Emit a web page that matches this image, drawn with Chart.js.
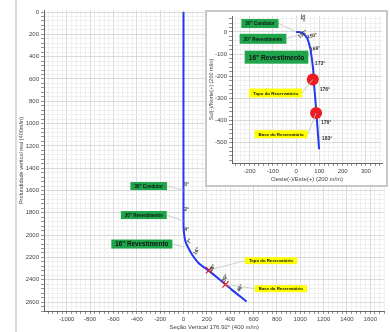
<!DOCTYPE html>
<html>
<head>
<meta charset="utf-8">
<script src="https://cdn.jsdelivr.net/npm/chart.js@4"></script>
<style>
  body { margin: 0; background: #fff; }
  #quadro { position: relative; width: 390px; height: 332px; overflow: hidden; }
  #borda { position: absolute; left: 15px; top: 0; width: 2px; height: 332px; background: #d9d9d9; }
  #main { position: absolute; left: 0; top: 0; }
  #inset { position: absolute; left: 205px; top: 10px; background: #fff; }
</style>
</head>
<body>
<div id="quadro">
  <div id="borda"></div>
  <canvas id="main" width="390" height="332"></canvas>
  <canvas id="inset" width="183" height="177"></canvas>
</div>
<script>
// Seção vertical (m) x profundidade vertical real (m)
const secaoVertical = [0, 0, 4, 15, 34, 77, 133, 215, 317, 417, 540];
const profundidade  = [0, 1900, 1980, 2050, 2100, 2180, 2254, 2318, 2404, 2493, 2595];

// Topo / base do reservatório na seção vertical
const reservSecao = [219, 360];
const reservProf  = [2314, 2442];

// Vista em planta: Oeste(-)/Este(+) x Sul(-)/Norte(+)
const esteOeste  = [0, 24, 46, 60, 67, 74, 76, 82, 87, 96, 99];
const norteSul   = [0, -3, -25, -70, -115, -175, -220, -295, -362, -489, -530];
const reservEste  = [72, 86];
const reservNorte = [-215, -366];

// rótulos das sapatas e do reservatório
const VERDE = '#1ea54b', AMARELO = '#ffff00';
const caixasMain = [
  { text: '30" Condutor', x: -298, y: 1560, size: 4.5, h: 8, cor: VERDE, ax: 0, ay: 1597 },
  { text: '20" Revestimento', x: -340, y: 1820, size: 4.5, h: 8, cor: VERDE, ax: 0, ay: 1875 },
  { text: '16" Revestimento', x: -357, y: 2080, size: 6.3, h: 9, cor: VERDE, ax: 8, ay: 2107 },
  { text: 'Topo do Reservatório', x: 749, y: 2229, size: 4.3, h: 7, cor: AMARELO, ax: 219, ay: 2314 },
  { text: 'Base do Reservatório', x: 834, y: 2480, size: 4.3, h: 7, cor: AMARELO, ax: 360, ay: 2442 }
];
const angulosMain = [
  { text: '0°', x: 26, y: 1543, rot: 0 },
  { text: '2°', x: 26, y: 1767, rot: 0 },
  { text: '4°', x: 26, y: 1955, rot: 0 },
  { text: '7°', x: 51, y: 2054, rot: -60 },
  { text: '16°', x: 111, y: 2143, rot: -60 },
  { text: '28°', x: 247, y: 2296, rot: -60 },
  { text: '39°', x: 357, y: 2386, rot: -60 },
  { text: '46°', x: 485, y: 2475, rot: -60 }
];
const caixasInset = [
  { text: '30" Condutor', x: -155, y: 38, size: 4.6, h: 9, cor: VERDE, ax: 0, ay: 0 },
  { text: '20" Revestimento', x: -142, y: -31, size: 4.6, h: 10, cor: VERDE, ax: 24, ay: -9 },
  { text: '16" Revestimento', x: -84, y: -114, size: 6.6, h: 13, cor: VERDE, ax: 60, ay: -76 },
  { text: 'Topo do Reservatório', x: -88, y: -276, size: 4.4, h: 9, cor: AMARELO, ax: 72, ay: -215 },
  { text: 'Base do Reservatório', x: -64, y: -462, size: 4.4, h: 8, cor: AMARELO, ax: 86, ay: -366 }
];
const angulosInset = [
  { text: '32°', x: 26, y: 63, rot: 90 },
  { text: '122°', x: 28, y: -10, rot: -40 },
  { text: '150°', x: 69, y: -18, rot: -15 },
  { text: '168°', x: 82, y: -76, rot: -10 },
  { text: '173°', x: 103, y: -143, rot: 0 },
  { text: '176°', x: 124, y: -260, rot: 0 },
  { text: '178°', x: 129, y: -408, rot: 0 },
  { text: '183°', x: 133, y: -480, rot: 0 }
];

const FONTE = '"Liberation Sans", Arial, sans-serif';

function marcas(ini, fim, passo) {
  const t = [];
  for (let v = ini; v <= fim; v += passo) t.push({ value: v });
  return t;
}

function eixo(min, max, passo, maior, extra) {
  return Object.assign({
    type: 'linear', min: min, max: max,
    afterBuildTicks: a => { a.ticks = marcas(Math.ceil(min / passo) * passo, max, passo); },
    ticks: {
      autoSkip: false, maxRotation: 0, padding: 2,
      color: '#444', font: { family: FONTE, size: 6 },
      callback: v => (v % maior === 0 ? v : '')
    },
    grid: {
      color: c => (c.tick && c.tick.value % maior === 0 ? '#d2d2d2' : '#ececec'),
      tickColor: '#777', tickLength: 3, lineWidth: 0.8
    },
    border: { color: '#666', width: 1 }
  }, extra);
}

const rotulos = {
  id: 'rotulos',
  afterDatasetsDraw(chart, args, opts) {
    const { ctx } = chart;
    const sx = chart.scales.x, sy = chart.scales.y;
    ctx.save();
    opts.caixas.forEach(c => {
      const px = sx.getPixelForValue(c.x), py = sy.getPixelForValue(c.y);
      ctx.font = 'bold ' + c.size + 'px ' + FONTE;
      const w = ctx.measureText(c.text).width + 8;
      const ax = sx.getPixelForValue(c.ax), ay = sy.getPixelForValue(c.ay);
      ctx.strokeStyle = '#c4c4c4';
      ctx.lineWidth = 0.8;
      ctx.beginPath();
      ctx.moveTo(ax > px ? px + w / 2 : px - w / 2, py);
      ctx.lineTo(ax, ay);
      ctx.stroke();
      ctx.fillStyle = c.cor;
      ctx.fillRect(px - w / 2, py - c.h / 2, w, c.h);
      ctx.fillStyle = '#111';
      ctx.textAlign = 'center';
      ctx.textBaseline = 'middle';
      ctx.fillText(c.text, px, py + 0.5);
    });
    opts.angulos.forEach(a => {
      ctx.save();
      ctx.translate(sx.getPixelForValue(a.x), sy.getPixelForValue(a.y));
      ctx.rotate(a.rot * Math.PI / 180);
      ctx.font = 'bold 5px ' + FONTE;
      ctx.fillStyle = '#333';
      ctx.textAlign = 'center';
      ctx.textBaseline = 'middle';
      ctx.fillText(a.text, 0, 0);
      ctx.restore();
    });
    ctx.restore();
  }
};

const moldura = {
  id: 'moldura',
  afterDraw(chart) {
    const ctx = chart.ctx;
    ctx.save();
    ctx.strokeStyle = '#c8c8c8';
    ctx.lineWidth = 2;
    ctx.strokeRect(1, 1, chart.width - 2, chart.height - 2);
    ctx.restore();
  }
};

const pontos = (xs, ys) => xs.map((v, i) => ({ x: v, y: ys[i] }));

// Seção vertical
new Chart(document.getElementById('main'), {
  type: 'scatter',
  data: {
    datasets: [
      {
        data: pontos(secaoVertical, profundidade),
        showLine: true, borderColor: '#2438f0', borderWidth: 2,
        pointRadius: 0, tension: 0.25, order: 1
      },
      {
        data: pontos(reservSecao, reservProf),
        pointStyle: 'crossRot', pointRadius: 4.5,
        borderColor: '#ee1c1c', borderWidth: 1.2, order: 0
      }
    ]
  },
  options: {
    responsive: false, animation: false,
    layout: { padding: { left: 17, right: 2, top: 10, bottom: 0 } },
    plugins: {
      legend: { display: false }, tooltip: { enabled: false },
      rotulos: { caixas: caixasMain, angulos: angulosMain }
    },
    scales: {
      x: eixo(-1195, 1720, 40, 200, {
        afterFit: s => { s.height = 21; },
        title: {
          display: true, text: 'Seção Vertical 176.92° (400 m/in)',
          color: '#444', font: { family: FONTE, size: 6 }, padding: { top: 0, bottom: 1 }
        }
      }),
      y: eixo(-18, 2680, 40, 200, {
        reverse: true,
        afterFit: s => { s.width = 27; },
        title: {
          display: true, text: 'Profundidade vertical real (400m/in)',
          color: '#444', font: { family: FONTE, size: 5.5 }, padding: { top: 1, bottom: 0 }
        }
      })
    }
  },
  plugins: [rotulos]
});

// Vista em planta
new Chart(document.getElementById('inset'), {
  type: 'scatter',
  data: {
    datasets: [
      {
        data: pontos(esteOeste, norteSul),
        showLine: true, borderColor: '#2438f0', borderWidth: 2,
        pointRadius: 0, tension: 0.3, order: 1
      },
      {
        data: pontos(reservEste, reservNorte),
        pointRadius: 6, backgroundColor: '#ec1c24', borderWidth: 0, order: 0
      }
    ]
  },
  options: {
    responsive: false, animation: false,
    layout: { padding: { left: 2, right: 6, top: 5, bottom: 4 } },
    plugins: {
      legend: { display: false }, tooltip: { enabled: false },
      rotulos: { caixas: caixasInset, angulos: angulosInset }
    },
    scales: {
      x: eixo(-275, 369, 20, 100, {
        afterFit: s => { s.height = 20; },
        title: {
          display: true, text: 'Oeste(-)/Este(+) (200 m/in)',
          color: '#444', font: { family: FONTE, size: 6 }, padding: { top: 0, bottom: 0 }
        }
      }),
      y: eixo(-592, 72, 20, 100, {
        afterFit: s => { s.width = 25; },
        title: {
          display: true, text: 'Sul(-)/Norte(+) (200 m/in)',
          color: '#444', font: { family: FONTE, size: 5.5 }, padding: { top: 1, bottom: 0 }
        }
      })
    }
  },
  plugins: [rotulos, moldura]
});
</script>
</body>
</html>
